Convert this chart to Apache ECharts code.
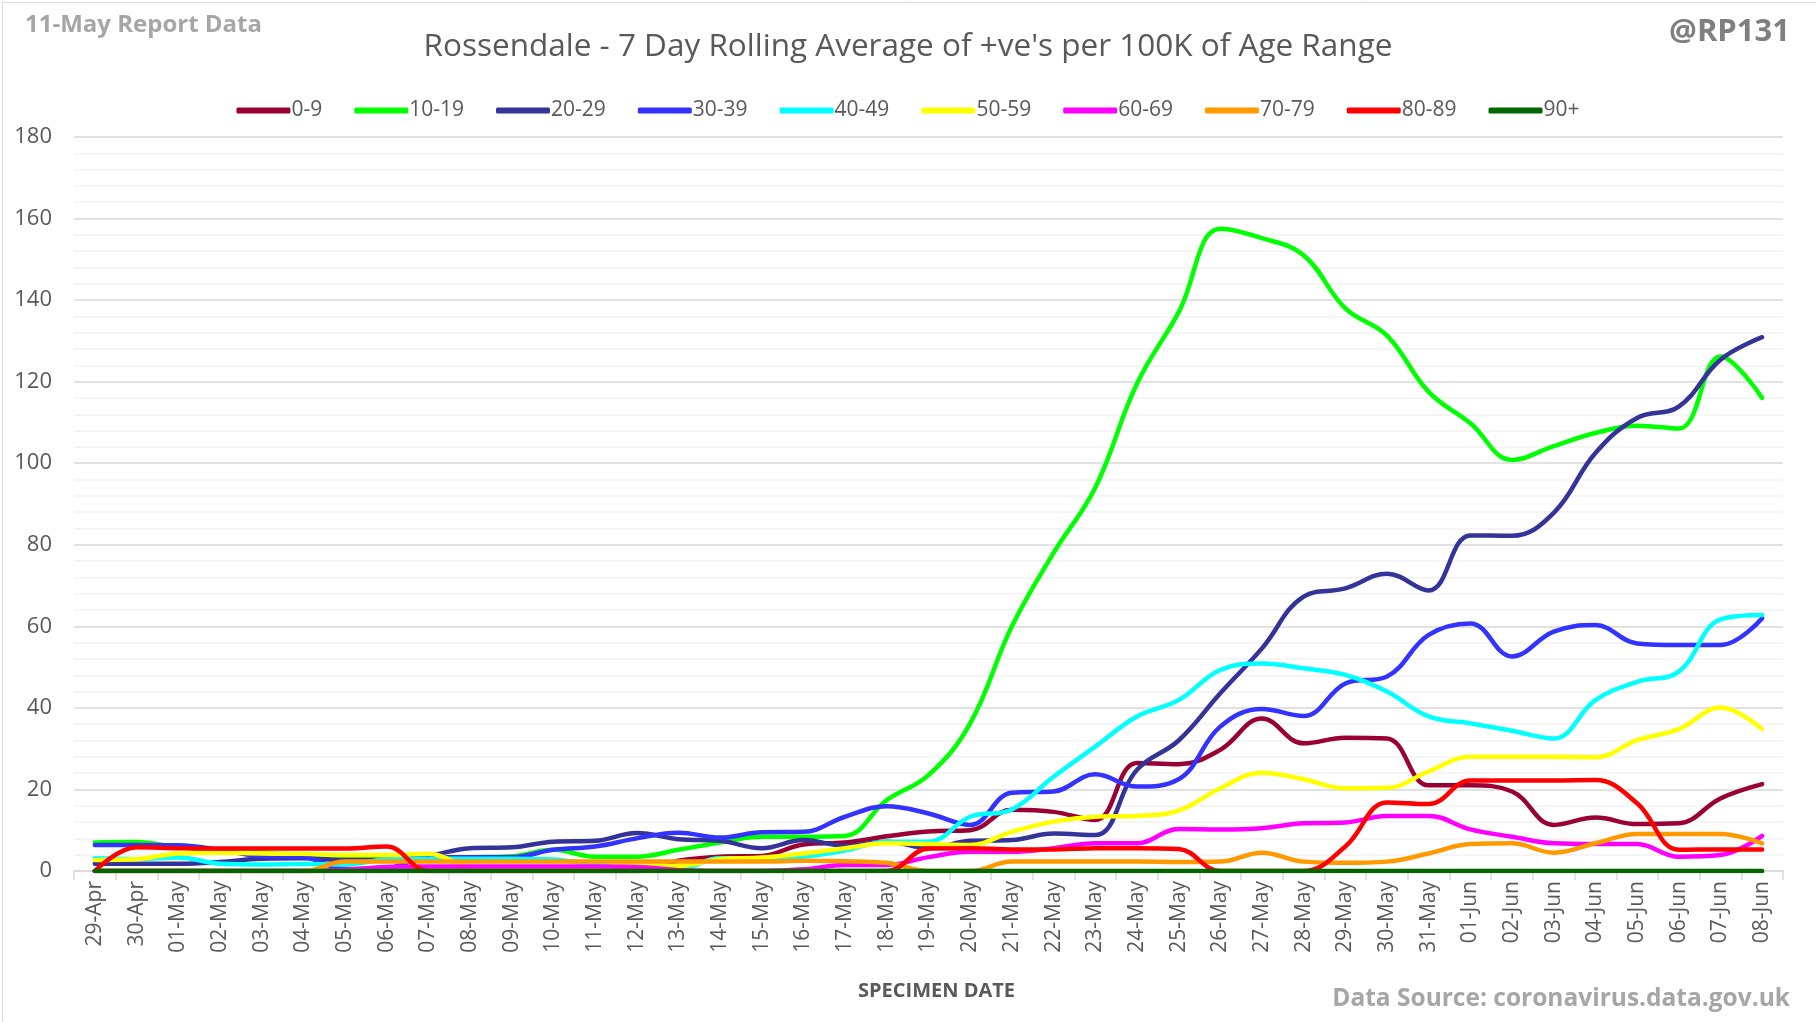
<!DOCTYPE html>
<html>
<head>
<meta charset="utf-8">
<script src="https://cdn.jsdelivr.net/npm/echarts@6/dist/echarts.min.js"></script>
<style>
html,body{margin:0;padding:0;background:#fff;}
#chart{width:1816px;height:1022px;}
</style>
</head>
<body>
<div id="chart"></div>
<script>
var dates = ["29-Apr","30-Apr","01-May","02-May","03-May","04-May","05-May","06-May","07-May","08-May","09-May","10-May","11-May","12-May","13-May","14-May","15-May","16-May","17-May","18-May","19-May","20-May","21-May","22-May","23-May","24-May","25-May","26-May","27-May","28-May","29-May","30-May","31-May","01-Jun","02-Jun","03-Jun","04-Jun","05-Jun","06-Jun","07-Jun","08-Jun"];

var age0_9   = [0,0,0,0,0,0,0,0,0,0,0,0,0,0,2.5,3.5,3.7,6.5,7,8.5,9.7,10,15,14.5,12.5,26.5,26.2,29.7,37.4,31.3,32.7,32.5,21,21,19.5,11.3,13.1,11.5,11.7,17.8,21.3];
var age10_19 = [7,7.1,5.8,5.2,4.5,3.8,3.2,3.1,3.2,3.4,3.6,5.2,3.5,3.5,5.2,7,8.4,8.4,8.6,17.4,23.5,36.2,60,78,94,119.5,137,157.5,155.2,151,138,131.3,117.5,109.8,100.8,104.2,107.4,109.2,108.5,126.2,116];
var age20_29 = [1.8,1.8,1.8,2.2,3.0,3.1,2.7,2.7,3.7,5.6,5.8,7.2,7.4,9.3,7.8,7.4,5.6,7.6,6.2,7.2,5.6,7.4,7.6,9.2,8.8,24.8,32,43.6,54.6,67.3,69.3,72.9,68.8,82.3,82.2,87.8,102.5,111.1,113.9,125.4,130.9];
var age30_39 = [6.4,6.4,6.3,5.2,3.6,3.4,0.5,0.7,3.4,3.4,3.4,5.2,6,8,9.4,8.2,9.5,9.6,13.3,15.9,14.1,11.3,19.2,19.5,23.7,20.7,22.5,35.4,39.7,38,46,47.7,57.9,60.7,52.6,58.7,60.3,55.8,55.4,55.4,62];
var age40_49 = [3.1,2.9,3.3,1.8,1.6,1.7,1.6,2.8,3,3,3,2.8,1.5,1.1,0.5,3.1,3.1,3.5,5,7.2,7.2,13.3,15.1,23.1,30.5,37.9,41.9,49.3,50.9,49.7,48.1,44,37.9,36.2,34.4,32.5,41.9,46.4,48.9,61.7,62.8];
var age50_59 = [2.7,2.9,4.3,4.5,4.3,4.2,3.9,3.9,4.2,1.1,0.7,0.7,0.7,2,1.2,2.9,3.3,4.3,5.6,6.8,6.6,6.4,9.6,12.1,13.3,13.5,14.8,20.3,24.1,22.5,20.3,20.4,24.4,28,28,28,27.9,32.1,34.8,40.1,34.8];
var age60_69 = [0,0,0,0,0,0,0.3,1,1.1,1.1,1.1,1.1,1.1,1,0.2,0,0,0.4,1.5,1.5,3.4,4.7,4.7,5.6,6.8,6.8,10.3,10.2,10.5,11.7,11.9,13.5,13.5,10.2,8.4,6.8,6.6,6.6,3.5,3.9,8.6];
var age70_79 = [0,0,0,0,0,0,2.3,2.3,2.3,2.3,2.3,2.3,2.3,2.3,2.3,2.3,2.3,2.5,2.4,2.0,0,0,2.3,2.3,2.3,2.3,2.2,2.3,4.5,2.3,2.0,2.3,4.3,6.6,6.8,4.5,6.8,9.1,9.1,9.1,6.8];
var age80_89 = [0,5.8,5.6,5.5,5.5,5.5,5.5,6,0,0,0,0,0,0,0,0,0,0,0,0,5.5,5.6,5.3,5.3,5.6,5.6,5.4,0,0,0,6,16.8,16.4,22.2,22.2,22.2,22.3,16.6,5.2,5.3,5.3];
var age90p   = [0,0,0,0,0,0,0,0,0,0,0,0,0,0,0,0,0,0,0,0,0,0,0,0,0,0,0,0,0,0,0,0,0,0,0,0,0,0,0,0,0];

var seriesNames = ["0-9","10-19","20-29","30-39","40-49","50-59","60-69","70-79","80-89","90+"];
var seriesColors = ["#990033","#00FF00","#333399","#3333FF","#00FFFF","#FFFF00","#FF00FF","#FF9900","#FF0000","#006600"];
var seriesData = [age0_9,age10_19,age20_29,age30_39,age40_49,age50_59,age60_69,age70_79,age80_89,age90p];
var yTicks = [0,20,40,60,80,100,120,140,160,180];

var FONT = "Open Sans";
var chart = echarts.init(document.getElementById('chart'), null, {renderer:'canvas'});

var series = seriesNames.map(function(n,i){
  return {
    name:n, type:'line', data:seriesData[i], smooth:0.4, showSymbol:false, symbol:'none',
    lineStyle:{color:seriesColors[i], width:4.5, cap:'round', join:'round'},
    itemStyle:{color:seriesColors[i]},
    emphasis:{disabled:true}
  };
});

chart.setOption({
  animation:false,
  backgroundColor:'#ffffff',
  textStyle:{fontFamily:FONT},
  title:[
    {text:'Rossendale - 7 Day Rolling Average of +ve\'s per 100K of Age Range', left:'center', top:26,
     textStyle:{fontFamily:FONT, fontSize:31.5, fontWeight:'normal', color:'#595959'}},
    {text:'11-May Report Data', left:20, top:8,
     textStyle:{fontFamily:FONT, fontSize:24, fontWeight:'bold', color:'#A6A6A6'}},
    {text:'@RP131', right:21, top:12,
     textStyle:{fontFamily:FONT, fontSize:31, fontWeight:'bold', color:'#7F7F7F'}},
    {text:'SPECIMEN DATE', left:853, top:976,
     textStyle:{fontFamily:FONT, fontSize:20, fontWeight:'bold', color:'#595959'}},
    {text:'Data Source: coronavirus.data.gov.uk', right:21, top:982,
     textStyle:{fontFamily:FONT, fontSize:24.5, fontWeight:'bold', color:'#A6A6A6'}}
  ],
  legend:{
    data:seriesNames, top:95, left:'center', itemWidth:54, itemHeight:6, itemGap:32,
    icon:'roundRect',
    textStyle:{fontFamily:FONT, fontSize:21, color:'#595959', padding:[0,0,0,-4]}
  },
  grid:{left:74, right:33, top:137, bottom:151, containLabel:false},
  xAxis:{
    type:'category', data:dates, boundaryGap:true,
    axisLine:{show:true, lineStyle:{color:'#D9D9D9', width:1.5}},
    axisTick:{show:true, alignWithLabel:false, interval:0, length:9, lineStyle:{color:'#D9D9D9', width:1.5}},
    axisLabel:{rotate:90, interval:0, fontFamily:FONT, fontSize:21, color:'#595959', margin:10},
    splitLine:{show:false}
  },
  yAxis:{
    type:'value', min:0, max:180, interval:20,
    axisLine:{show:false}, axisTick:{show:false},
    axisLabel:{fontFamily:FONT, fontSize:22, color:'#595959', margin:22,
      formatter:function(v){return yTicks.indexOf(v)>=0 ? String(v) : '';}},
    splitLine:{show:true, lineStyle:{color:'#D9D9D9', width:1.5}},
    minorTick:{show:false, splitNumber:5},
    minorSplitLine:{show:true, lineStyle:{color:'#F2F2F2', width:1.5}}
  },
  graphic:[{type:'rect', left:0, top:0, z:-10, silent:true,
    shape:{x:0.5,y:0.5,width:1815,height:1021}, style:{fill:'none', stroke:'#D9D9D9', lineWidth:1}}],
  series:series
});
</script>
</body>
</html>
